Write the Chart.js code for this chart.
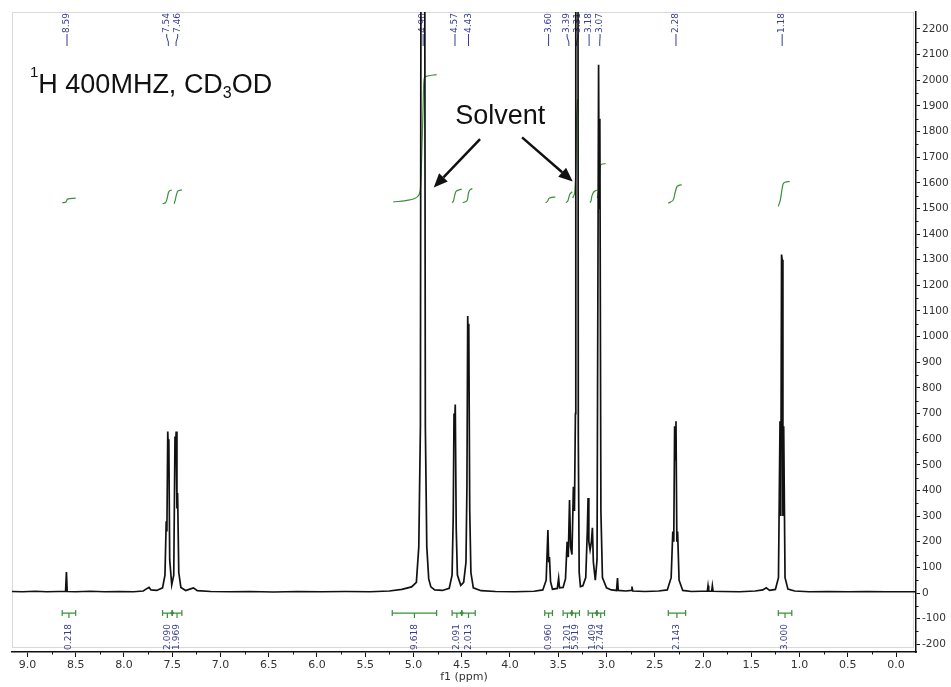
<!DOCTYPE html>
<html>
<head>
<meta charset="utf-8">
<title>1H NMR spectrum</title>
<script src="https://cdn.jsdelivr.net/npm/chart.js@4.4.1/dist/chart.umd.min.js"></script>
<style>
  html, body { margin: 0; padding: 0; background: #fff; }
  #wrap { width: 951px; height: 687px; }
</style>
</head>
<body>
<div id="wrap"><canvas id="nmr" width="951" height="687"></canvas></div>
<script>
// Spectrum trace: chemical shift (ppm) and intensity, highest shift first
const shiftPpm = [
  9.16, 9.05, 8.92, 8.80, 8.68, 8.605, 8.596, 8.588, 8.50, 8.35, 8.20, 8.05, 7.90, 7.80, 7.76, 7.74, 7.72, 7.66, 7.60,
  7.575, 7.562, 7.555, 7.546, 7.541, 7.535, 7.526, 7.505, 7.484, 7.471, 7.466, 7.459, 7.451, 7.444, 7.432, 7.41, 7.36, 7.31, 7.28, 7.24,
  7.10, 6.90, 6.70, 6.45, 6.20, 5.95, 5.70, 5.45, 5.25, 5.12, 5.02, 4.97,
  4.945, 4.928, 4.915, 4.892, 4.877, 4.862, 4.842, 4.82, 4.78, 4.70, 4.63,
  4.600, 4.588, 4.580, 4.574, 4.567, 4.557, 4.545, 4.51, 4.48, 4.456, 4.446, 4.438, 4.433, 4.427, 4.417, 4.405, 4.38, 4.30,
  4.15, 3.95, 3.75, 3.66,
  3.625, 3.607, 3.599, 3.591, 3.580, 3.56, 3.51, 3.496, 3.487, 3.45, 3.425,
  3.408, 3.396, 3.383, 3.372, 3.358, 3.343, 3.332,
  3.322, 3.318, 3.300, 3.292, 3.283, 3.27, 3.245,
  3.215, 3.198, 3.191, 3.183, 3.170, 3.156, 3.146, 3.136, 3.116, 3.098,
  3.082, 3.076, 3.069, 3.058, 3.042, 3.00, 2.95, 2.896, 2.886, 2.878, 2.80, 2.744, 2.736, 2.728, 2.60, 2.46, 2.37,
  2.330, 2.313, 2.303, 2.294, 2.287, 2.280, 2.271, 2.263, 2.248, 2.21, 2.12, 2.02,
  1.955, 1.948, 1.941, 1.910, 1.903, 1.896, 1.80, 1.62, 1.46, 1.38, 1.345, 1.31, 1.25,
  1.218, 1.202, 1.194, 1.186, 1.180, 1.172, 1.164, 1.150, 1.12, 1.05, 0.90, 0.70, 0.50, 0.30, 0.10, -0.20
];
const intensity = [
  6, 5, 7, 5, 6, 6, 82, 6, 5, 7, 5, 6, 5, 8, 18, 22, 12, 10, 20,
  70, 280, 240, 630, 560, 600, 130, 32, 70, 610, 560, 630, 330, 390, 80, 22, 10, 16, 20, 9,
  6, 5, 6, 4, 6, 5, 6, 5, 8, 14, 24, 42,
  180, 650, 5000, 5000, 650, 180, 55, 24, 12, 10, 18,
  70, 300, 700, 650, 735, 250, 70, 30, 42, 120, 420, 1080, 980, 1050, 320, 80, 20, 9,
  6, 5, 7, 12,
  50, 246, 120, 140, 45, 15, 18, 58, 20, 22, 55,
  200, 140, 363, 180, 150, 414, 320,
  700, 5000, 5000, 600, 80, 25, 28,
  60, 250, 371, 200, 168, 200, 254, 120, 50, 130,
  2060, 1500, 1850, 320, 60, 20, 12, 10, 58, 10, 8, 10, 25, 8, 6, 8, 12,
  60, 240, 200, 650, 520, 670, 200, 240, 50, 10, 6, 7,
  7, 28, 7, 7, 28, 7, 6, 5, 8, 12, 20, 10, 14,
  60, 670, 300, 1320, 1300, 300, 650, 60, 15, 8, 5, 6, 5, 6, 5, 5
];

// Picked peaks
const peakShifts = [8.59, 7.54, 7.46, 4.90, 4.57, 4.43, 3.60, 3.39, 3.31, 3.18, 3.07, 2.28, 1.18];

// Integration ranges (ppm) and their integrals
const integralFrom = [8.64, 7.60, 7.50, 5.22, 4.60, 4.50, 3.64, 3.45, 3.36, 3.19, 3.10, 2.36, 1.22];
const integralTo = [8.50, 7.50, 7.40, 4.76, 4.50, 4.36, 3.56, 3.36, 3.28, 3.10, 3.02, 2.18, 1.08];
const integralValues = [0.218, 2.090, 1.969, 9.618, 2.091, 2.013, 0.960, 1.201, 5.919, 1.409, 2.744, 2.143, 3.000];

// Integral curves, null separates one range from the next
const curvePpm = [
  8.64, 8.60, 8.585, 8.50, null,
  7.60, 7.57, 7.555, 7.54, 7.53, 7.505, null,
  7.48, 7.47, 7.455, 7.44, 7.40, null,
  5.21, 5.05, 4.96, 4.93, 4.915, 4.90, 4.89, 4.87, 4.76, null,
  4.60, 4.585, 4.57, 4.555, 4.50, null,
  4.49, 4.445, 4.43, 4.415, 4.39, null,
  3.63, 3.61, 3.595, 3.53, null,
  3.42, 3.40, 3.38, 3.355, null,
  3.35, 3.33, 3.318, 3.31, 3.30, null,
  3.17, 3.16, 3.15, 3.13, 3.10, null,
  3.095, 3.08, 3.072, 3.065, 3.05, 3.01, null,
  2.36, 2.31, 2.29, 2.27, 2.25, 2.22, null,
  1.22, 1.20, 1.185, 1.17, 1.15, 1.10
];
const curveValue = [
  1522, 1525, 1536, 1540, null,
  1518, 1522, 1535, 1560, 1568, 1572, null,
  1518, 1530, 1555, 1568, 1572, null,
  1525, 1532, 1545, 1570, 1700, 1900, 2005, 2015, 2022, null,
  1522, 1530, 1555, 1568, 1575, null,
  1522, 1530, 1560, 1572, 1578, null,
  1522, 1528, 1540, 1545, null,
  1522, 1530, 1555, 1565, null,
  1540, 1560, 1650, 1850, 1926, null,
  1522, 1530, 1550, 1565, 1572, null,
  1540, 1570, 1620, 1665, 1672, 1675, null,
  1520, 1532, 1560, 1585, 1590, 1592, null,
  1508, 1530, 1565, 1595, 1602, 1605
];

// Axis ticks
const xTickValues = [0.0, 0.5, 1.0, 1.5, 2.0, 2.5, 3.0, 3.5, 4.0, 4.5, 5.0, 5.5, 6.0, 6.5, 7.0, 7.5, 8.0, 8.5, 9.0];
const yTickValues = [-200, -100, 0, 100, 200, 300, 400, 500, 600, 700, 800, 900, 1000, 1100, 1200,
  1300, 1400, 1500, 1600, 1700, 1800, 1900, 2000, 2100, 2200];

const xRange = [-0.207, 9.16];
const yRange = [-230, 2266];

const INK = '#111111';
const AXIS_TEXT = '#333333';
const NAVY = '#363d8e';
const GREEN = '#3c8f3c';
const SMALL_FONT = '9px "DejaVu Sans", Verdana, sans-serif';
const SANS = '"Liberation Sans", Arial, sans-serif';

// push crowded labels apart so they keep a minimum spacing
function spreadLabels(xs, gap) {
  const out = xs.slice();
  for (let pass = 0; pass < 30; pass++) {
    for (let i = 1; i < out.length; i++) {
      const d = out[i] - out[i - 1];
      if (d < gap) {
        const s = (gap - d) / 2;
        out[i - 1] -= s;
        out[i] += s;
      }
    }
  }
  return out;
}

function arrow(ctx, x1, y1, x2, y2) {
  const ang = Math.atan2(y2 - y1, x2 - x1);
  const len = 14, half = 6;
  const bx = x2 - Math.cos(ang) * len, by = y2 - Math.sin(ang) * len;
  ctx.beginPath();
  ctx.moveTo(x1, y1);
  ctx.lineTo(bx, by);
  ctx.stroke();
  ctx.beginPath();
  ctx.moveTo(x2, y2);
  ctx.lineTo(bx + Math.sin(ang) * half, by - Math.cos(ang) * half);
  ctx.lineTo(bx - Math.sin(ang) * half, by + Math.cos(ang) * half);
  ctx.closePath();
  ctx.fill();
}

const spectrumDecor = {
  id: 'spectrumDecor',
  beforeDatasetsDraw(chart) {
    const { ctx, chartArea: a, scales: { x } } = chart;
    ctx.save();
    // light plot frame
    ctx.strokeStyle = '#d9d9d9';
    ctx.lineWidth = 1;
    ctx.strokeRect(a.left + 0.5, a.top + 0.5, a.right - a.left - 3, a.bottom - a.top - 5);

    // peak labels with connectors
    const px = peakShifts.map(p => x.getPixelForValue(p));
    const lx = spreadLabels(px, 11);
    ctx.strokeStyle = NAVY;
    ctx.fillStyle = NAVY;
    ctx.lineWidth = 1;
    ctx.font = SMALL_FONT;
    const t0 = a.top + 21;
    px.forEach((p, i) => {
      ctx.beginPath();
      ctx.moveTo(lx[i], t0 + 1);
      ctx.lineTo(lx[i], t0 + 4);
      ctx.lineTo(p, t0 + 9);
      ctx.lineTo(p, t0 + 13);
      ctx.stroke();
      ctx.save();
      ctx.translate(lx[i], t0);
      ctx.rotate(-Math.PI / 2);
      ctx.textAlign = 'left';
      ctx.textBaseline = 'middle';
      ctx.fillText(peakShifts[i].toFixed(2), 0, 0);
      ctx.restore();
    });
    ctx.restore();
  },
  afterDatasetsDraw(chart) {
    const { ctx, chartArea: a, scales: { x, y } } = chart;
    ctx.save();

    // integration brackets and values
    const yb = y.getPixelForValue(-78);
    ctx.strokeStyle = GREEN;
    ctx.fillStyle = GREEN;
    ctx.lineWidth = 1.2;
    integralFrom.forEach((f, i) => {
      const x1 = x.getPixelForValue(f);
      const x2 = x.getPixelForValue(integralTo[i]);
      const xm = (x1 + x2) / 2;
      ctx.beginPath();
      ctx.moveTo(x1, yb); ctx.lineTo(x2, yb);
      ctx.moveTo(x1, yb - 3); ctx.lineTo(x1, yb + 3);
      ctx.moveTo(x2, yb - 3); ctx.lineTo(x2, yb + 3);
      ctx.moveTo(xm, yb); ctx.lineTo(xm, yb + 5);
      ctx.stroke();
      if (i + 1 < integralFrom.length && integralFrom[i + 1] === integralTo[i]) {
        ctx.beginPath();
        ctx.arc(x2, yb, 1.8, 0, Math.PI * 2);
        ctx.fill();
      }
    });
    ctx.fillStyle = NAVY;
    ctx.font = SMALL_FONT;
    integralFrom.forEach((f, i) => {
      const xm = (x.getPixelForValue(f) + x.getPixelForValue(integralTo[i])) / 2;
      ctx.save();
      ctx.translate(xm, yb + 24);
      ctx.rotate(-Math.PI / 2);
      ctx.textAlign = 'center';
      ctx.textBaseline = 'middle';
      ctx.fillText(integralValues[i].toFixed(3), 0, 0);
      ctx.restore();
    });

    // solvent annotation
    ctx.fillStyle = INK;
    ctx.strokeStyle = INK;
    ctx.font = '27px ' + SANS;
    ctx.textAlign = 'center';
    ctx.textBaseline = 'middle';
    ctx.fillText('Solvent', x.getPixelForValue(4.10), y.getPixelForValue(1859));
    ctx.lineWidth = 2.5;
    arrow(ctx, x.getPixelForValue(4.31), y.getPixelForValue(1770),
      x.getPixelForValue(4.79), y.getPixelForValue(1582));
    arrow(ctx, x.getPixelForValue(3.875), y.getPixelForValue(1777),
      x.getPixelForValue(3.35), y.getPixelForValue(1605));

    // nucleus / field / solvent title
    const tx = a.left + 18, tb = a.top + 81;
    ctx.textAlign = 'left';
    ctx.textBaseline = 'alphabetic';
    ctx.font = '15px ' + SANS;
    ctx.fillText('1', tx, tb - 16);
    let cx = tx + ctx.measureText('1').width;
    ctx.font = '27px ' + SANS;
    ctx.fillText('H 400MHZ, CD', cx, tb);
    cx += ctx.measureText('H 400MHZ, CD').width;
    ctx.font = '16px ' + SANS;
    ctx.fillText('3', cx, tb + 5);
    cx += ctx.measureText('3').width;
    ctx.font = '27px ' + SANS;
    ctx.fillText('OD', cx, tb);
    ctx.restore();
  },
  afterDraw(chart) {
    const { ctx, chartArea: a, scales: { x, y } } = chart;
    ctx.save();
    ctx.strokeStyle = INK;
    ctx.lineWidth = 1;
    // minor ticks halfway between the labelled ones
    ctx.beginPath();
    for (let i = 1; i < xTickValues.length; i++) {
      const v = (xTickValues[i - 1] + xTickValues[i]) / 2;
      const p = Math.round(x.getPixelForValue(v)) + 0.5;
      ctx.moveTo(p, a.bottom);
      ctx.lineTo(p, a.bottom + 2.5);
    }
    for (let i = 1; i < yTickValues.length; i++) {
      const v = (yTickValues[i - 1] + yTickValues[i]) / 2;
      const p = Math.round(y.getPixelForValue(v)) + 0.5;
      ctx.moveTo(a.right, p);
      ctx.lineTo(a.right + 2.5, p);
    }
    ctx.stroke();
    ctx.restore();
  }
};

const spectrumData = shiftPpm.map((p, i) => ({ x: p, y: intensity[i] }));
const curveData = curvePpm.map((p, i) => (p === null
  ? { x: curvePpm[i - 1], y: null }
  : { x: p, y: curveValue[i] }));

Chart.defaults.font.family = '"DejaVu Sans", Verdana, sans-serif';
Chart.defaults.font.size = 11;
Chart.defaults.color = AXIS_TEXT;

new Chart(document.getElementById('nmr'), {
  type: 'line',
  data: {
    datasets: [{
      label: 'spectrum',
      data: spectrumData,
      borderColor: INK,
      borderWidth: 1.7,
      pointRadius: 0,
      tension: 0
    }, {
      label: 'integral',
      data: curveData,
      borderColor: GREEN,
      borderWidth: 1.2,
      pointRadius: 0,
      tension: 0.3,
      spanGaps: false
    }]
  },
  options: {
    responsive: false,
    devicePixelRatio: 1,
    animation: false,
    layout: { padding: { left: 12, top: 12, right: 0, bottom: 0 } },
    plugins: { legend: { display: false }, tooltip: { enabled: false } },
    scales: {
      x: {
        type: 'linear',
        reverse: true,
        min: xRange[0],
        max: xRange[1],
        afterFit: s => { s.height = 35; },
        afterBuildTicks: s => { s.ticks = xTickValues.map(v => ({ value: v })); },
        grid: { display: true, drawOnChartArea: false, drawTicks: true, tickLength: 5, color: INK },
        border: { display: true, color: INK, width: 1.5 },
        ticks: {
          autoSkip: false,
          maxRotation: 0,
          padding: 2,
          callback: v => v.toFixed(1)
        },
        title: { display: true, text: 'f1 (ppm)', padding: { top: 0, bottom: 3 }, font: { size: 11 } }
      },
      y: {
        type: 'linear',
        position: 'right',
        min: yRange[0],
        max: yRange[1],
        afterFit: s => { s.width = 35; },
        afterBuildTicks: s => { s.ticks = yTickValues.map(v => ({ value: v })); },
        grid: { display: true, drawOnChartArea: false, drawTicks: true, tickLength: 4, color: INK },
        border: { display: true, color: INK, width: 1.5 },
        ticks: {
          autoSkip: false,
          padding: 2,
          font: { size: 10.5 },
          callback: v => String(v)
        }
      }
    }
  },
  plugins: [spectrumDecor]
});
</script>
</body>
</html>
